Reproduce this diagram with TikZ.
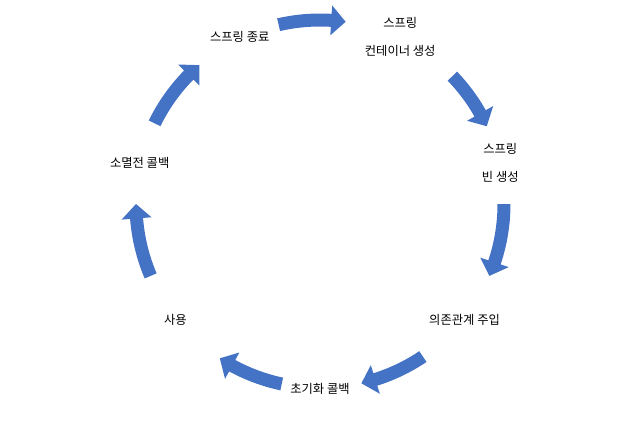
\documentclass[tikz,border=0pt]{standalone}
\usepackage{fontspec}
\setmainfont{Noto Sans CJK KR}
\definecolor{pfeilblau}{RGB}{68,114,196}
% Blockpfeil auf dem Kreis, im Uhrzeigersinn: #1 Anfang, #2 Spitze
\newcommand{\kreispfeil}[2]{%
  \fill[pfeilblau] ({#1}:190.5) arc[start angle={#1}, end angle={#2+4.5}, radius=190.5pt]
    -- ({#2+4.5}:199) -- ({#2}:184) -- ({#2+4.5}:169) -- ({#2+4.5}:177.5)
    arc[start angle={#2+4.5}, end angle={#1}, radius=177.5pt] -- cycle;}

\begin{document}
\begin{tikzpicture}[x=1pt, y=1pt,
    etikett/.style={align=center, font=\fontsize{12.3}{28}\selectfont}]
    \useasboundingbox (-320,-222) rectangle (320,204);
    % Stationen:
    \node[etikett] (ende) at (115.7:185) {스프링 종료};
    \node[etikett] (container) at (64.3:185) {스프링\\컨테이너 생성};
    \node[etikett] (bean) at (12.9:185) {스프링\\빈 생성};
    \node[etikett] (di) at (-38.6:185) {의존관계 주입};
    \node[etikett] (init) at (-90:185) {초기화 콜백};
    \node[etikett] (nutzung) at (-141.4:185) {사용};
    \node[etikett] (destroy) at (167.1:185) {소멸전 콜백};
    % Pfeile:
    \kreispfeil{103}{82}   % ende -> container
    \kreispfeil{44}{25}    % container -> bean
    \kreispfeil{0}{-23}    % bean -> di
    \kreispfeil{-56}{-77}  % di -> init
    \kreispfeil{258}{237}  % init -> nutzung
    \kreispfeil{203}{180}  % nutzung -> destroy
    \kreispfeil{154}{131}  % destroy -> ende
\end{tikzpicture}
\end{document}
